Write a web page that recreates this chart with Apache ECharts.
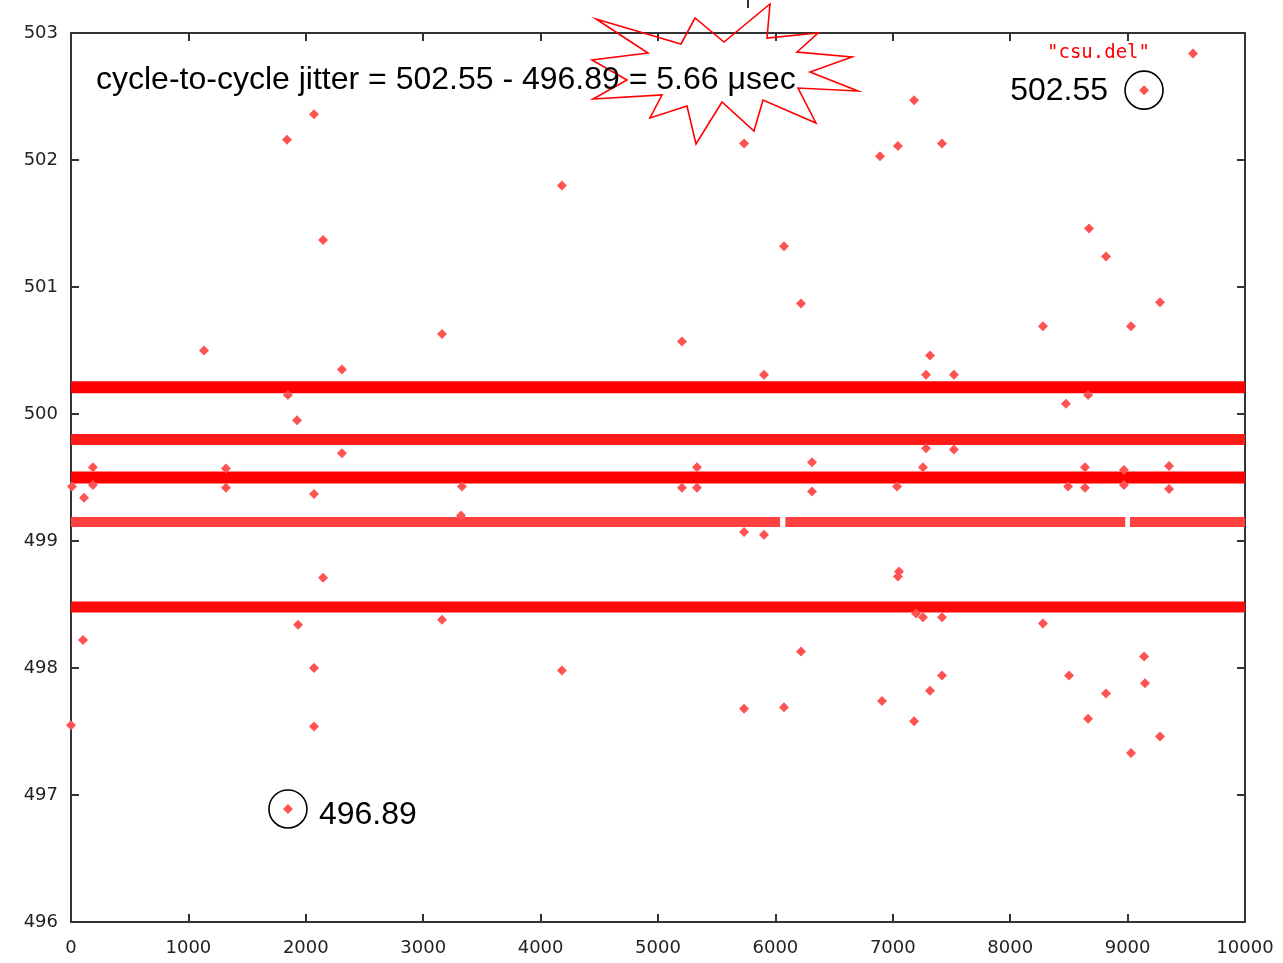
<!DOCTYPE html>
<html>
<head>
<meta charset="utf-8">
<script src="https://cdn.jsdelivr.net/npm/echarts@6/dist/echarts.min.js"></script>
<style>
  html, body { margin: 0; padding: 0; background: #fff; }
  #chart { width: 1283px; height: 963px; }
</style>
</head>
<body>
<div id="chart"></div>
<script>
// ---- data -------------------------------------------------------------
const seriesName = 'csu.del';

// Axis ranges and tick step
const xRange = [0, 10000];
const yRange = [496, 503];
const xStep = 1000;
const yStep = 1;

// Dense delay levels (usec) and the sample ranges over which each level is populated
const bandLevels = [500.21, 499.80, 499.50, 499.15, 498.48];
const bandSpans = [
  [[0, 10000]],
  [[0, 10000]],
  [[0, 10000]],
  [[0, 6040], [6085, 8980], [9020, 10000]],
  [[0, 10000]]
];

// Isolated samples away from the dense levels
const outlierX = [
  1840, 2070, 2147, 1133, 3160, 4182, 2308, 1925, 2308, 111,
  2070, 2147, 1934, 102, 2070, 4182, 2070, 0, 3160, 3322,
  3330, 5204, 5733, 6073, 6218, 5903, 6312, 6312, 5733, 5903,
  6218, 5733, 6073, 6891, 7044, 7181, 7419, 7317, 7283, 7521,
  7053, 7044, 6908, 7181, 7317, 7419, 8279, 8475, 8671, 8816,
  9029, 9276, 8279, 8501, 8663, 8816, 9029, 9140, 9148, 9276,
  187, 187, 1320, 1320, 8, 1848, 5204, 5332, 5332, 7283,
  7521, 7257, 7036, 7257, 7419, 7198, 8637, 8637, 8493, 8969,
  8969, 9353, 9353, 8663
];
const outlierY = [
  502.16, 502.36, 501.37, 500.50, 500.63, 501.80, 500.35, 499.95, 499.69, 499.34,
  499.37, 498.71, 498.34, 498.22, 498.00, 497.98, 497.54, 497.55, 498.38, 499.20,
  499.43, 500.57, 502.13, 501.32, 500.87, 500.31, 499.62, 499.39, 499.07, 499.05,
  498.13, 497.68, 497.69, 502.03, 502.11, 502.47, 502.13, 500.46, 500.31, 500.31,
  498.76, 498.72, 497.74, 497.58, 497.82, 497.94, 500.69, 500.08, 501.46, 501.24,
  500.69, 500.88, 498.35, 497.94, 497.60, 497.80, 497.33, 498.09, 497.88, 497.46,
  499.58, 499.44, 499.57, 499.42, 499.43, 500.15, 499.42, 499.58, 499.42, 499.73,
  499.72, 499.58, 499.43, 498.40, 498.40, 498.43, 499.58, 499.42, 499.43, 499.56,
  499.44, 499.59, 499.41, 500.15
];

// Extremes of the run: [sample, delay]
const peakPoint = [9140, 502.55];
const troughPoint = [1848, 496.89];

// ---- chart ------------------------------------------------------------
const chart = echarts.init(document.getElementById('chart'), null, { renderer: 'canvas' });

const red = '#ff0000';
const axisColor = '#333333';
const tickFont = {
  fontFamily: 'DejaVu Sans', fontSize: 18, color: '#222222',
  formatter: v => String(v)
};

const scatterData = outlierX.map((x, i) => [x, outlierY[i]]).concat([peakPoint, troughPoint]);

const bandWidths = [12, 11, 12, 10, 11];
const bandColors = ['#ff0000', '#ff1a1a', '#ff0000', '#ff4040', '#ff0a0a'];

const bandSeries = [];
bandLevels.forEach((level, b) => {
  bandSpans[b].forEach(span => {
    bandSeries.push({
      name: seriesName,
      type: 'line',
      data: [[span[0], level], [span[1], level]],
      symbol: 'none',
      silent: true,
      lineStyle: { color: bandColors[b], width: bandWidths[b], cap: 'butt' },
      z: 2
    });
  });
});

function axisCommon(extra) {
  return Object.assign({
    type: 'value',
    axisLine: { show: true, onZero: false, lineStyle: { color: axisColor, width: 2 } },
    axisTick: { show: true, inside: true, length: 8, lineStyle: { color: axisColor, width: 2 } },
    splitLine: { show: false }
  }, extra);
}

chart.setOption({
  animation: false,
  backgroundColor: '#ffffff',
  grid: { left: 71, right: 38, top: 33, bottom: 41, outerBoundsMode: 'none' },
  legend: {
    data: [seriesName],
    right: 80,
    top: 39,
    align: 'right',
    icon: 'diamond',
    itemWidth: 10,
    itemHeight: 10,
    formatter: name => '"' + name + '"',
    textStyle: { fontFamily: 'DejaVu Sans Mono', fontSize: 19, color: red, padding: [0, 33, 0, 0] },
    selectedMode: false
  },
  xAxis: [
    axisCommon({
      min: xRange[0], max: xRange[1], interval: xStep, position: 'bottom',
      axisLabel: Object.assign({ margin: 17 }, tickFont)
    }),
    axisCommon({
      min: xRange[0], max: xRange[1], interval: xStep, position: 'top',
      axisLabel: { show: false }
    })
  ],
  yAxis: [
    axisCommon({
      min: yRange[0], max: yRange[1], interval: yStep, position: 'left',
      axisLabel: Object.assign({ margin: 13 }, tickFont)
    }),
    axisCommon({
      min: yRange[0], max: yRange[1], interval: yStep, position: 'right',
      axisLabel: { show: false }
    })
  ],
  series: [
    {
      name: seriesName,
      type: 'scatter',
      data: scatterData,
      symbol: 'diamond',
      symbolSize: 10,
      itemStyle: { color: '#ff5252', opacity: 1 },
      z: 3
    }
  ].concat(bandSeries)
});

// ---- annotations ------------------------------------------------------
const peakPx = chart.convertToPixel({ xAxisIndex: 0, yAxisIndex: 0 }, peakPoint);
const troughPx = chart.convertToPixel({ xAxisIndex: 0, yAxisIndex: 0 }, troughPoint);
const jitter = (peakPoint[1] - troughPoint[1]).toFixed(2);
const annoFont = 'Liberation Sans';

chart.setOption({
  graphic: [
    {
      type: 'polygon',
      z: 10,
      shape: {
        points: [
          [770, 4], [767, 38], [818, 33], [797, 52], [852, 57], [810, 72],
          [858, 91], [798, 88], [816, 123], [763, 100], [754, 131], [722, 102],
          [696, 144], [687, 106], [650, 118], [662, 95], [593, 99], [627, 80],
          [592, 60], [648, 53], [596, 19], [681, 44], [695, 18], [724, 42]
        ]
      },
      style: { fill: null, stroke: red, lineWidth: 1.6 }
    },
    {
      type: 'line', z: 10,
      shape: { x1: 748, y1: 0, x2: 748, y2: 8 },
      style: { stroke: axisColor, lineWidth: 2 }
    },
    {
      type: 'text', z: 11,
      x: 96, y: 80,
      style: {
        text: 'cycle-to-cycle jitter = ' + peakPoint[1].toFixed(2) + ' - ' +
              troughPoint[1].toFixed(2) + ' = ' + jitter + ' \u03bcsec',
        font: '32px "' + annoFont + '"', fill: '#000', verticalAlign: 'middle'
      }
    },
    {
      type: 'circle', z: 11,
      shape: { cx: peakPx[0], cy: peakPx[1], r: 19 },
      style: { fill: null, stroke: '#000', lineWidth: 1.6 }
    },
    {
      type: 'text', z: 11,
      x: peakPx[0] - 36, y: peakPx[1] + 1,
      style: {
        text: peakPoint[1].toFixed(2), font: '32px "' + annoFont + '"', fill: '#000',
        align: 'right', verticalAlign: 'middle'
      }
    },
    {
      type: 'circle', z: 11,
      shape: { cx: troughPx[0], cy: troughPx[1], r: 19 },
      style: { fill: null, stroke: '#000', lineWidth: 1.6 }
    },
    {
      type: 'text', z: 11,
      x: troughPx[0] + 31, y: troughPx[1] + 6,
      style: {
        text: troughPoint[1].toFixed(2), font: '32px "' + annoFont + '"', fill: '#000',
        align: 'left', verticalAlign: 'middle'
      }
    }
  ]
});
</script>
</body>
</html>
